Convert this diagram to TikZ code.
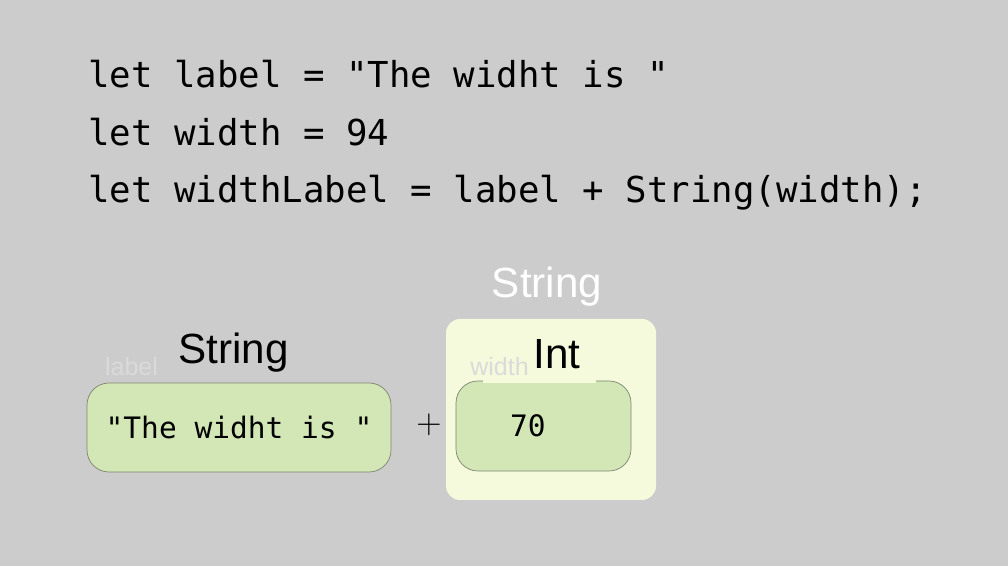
\documentclass[tikz,border=0pt]{standalone}
\usepackage{fontspec}
\setmainfont{Liberation Sans}
\newfontfamily\codefont{DejaVu Sans Mono}
\usetikzlibrary{positioning}

\definecolor{slidebg}{HTML}{CCCCCC}
\definecolor{valgreen}{HTML}{D3E7B6}
\definecolor{strbox}{HTML}{F5FADC}
\definecolor{boxline}{HTML}{7C8570}
\definecolor{faint}{HTML}{DADADA}

\begin{document}
\begin{tikzpicture}[
  code/.style={
    anchor=base west,
    inner sep=0pt,
    font=\codefont\fontsize{25.4}{30}\selectfont
  },
  valbox/.style={
    draw=boxline,
    line width=0.5pt,
    fill=valgreen,
    rounded corners=0.55cm,
    font=\codefont\fontsize{21}{25}\selectfont
  },
  typename/.style={anchor=base, inner sep=0pt, font=\fontsize{30}{35}\selectfont},
  varname/.style={anchor=base, inner sep=0pt, text=faint, font=\fontsize{17.8}{21}\selectfont}
]

\fill[slidebg] (0,0) rectangle (25.2,14.15);

% source lines
\node[code] (line1) at (2.2,11.95)  {let label = "The widht is "};
\node[code] (line2) at (2.2,10.5)   {let width = 94};
\node[code] (line3) at (2.2,9.075)  {let widthLabel = label + String(width);};

% the converted value
\node[fill=strbox, rounded corners=0.35cm, minimum width=5.25cm, minimum height=4.525cm] (strwrap) at (13.775,3.9125) {};
\node[typename, text=white] (strtype) at (13.675,6.7) {String};

\node[valbox, minimum width=7.6cm, minimum height=2.225cm] (labelval) at (5.975,3.4625) {"The widht is "};
\node[valbox, minimum width=4.375cm, minimum height=2.25cm, text width=1.675cm, inner xsep=1.35cm, align=left] (widthval) at (13.5875,3.5) {70};

\node (plus) at (10.725,3.525) {\fontsize{23}{23}\selectfont$+$};

% types and names
\node[typename] (labeltype) at (5.8375,5.05) {String};
\node[varname] (labelname) at (3.2875,4.75) {label};
\node[typename, fill=strbox, anchor=south, inner ysep=0.35cm, inner xsep=0.375cm, text width=2.075cm, align=right] (inttype) at (13.475,4.575) {Int};
\node[varname] (widthname) at (12.4875,4.75) {width};

\end{tikzpicture}
\end{document}
